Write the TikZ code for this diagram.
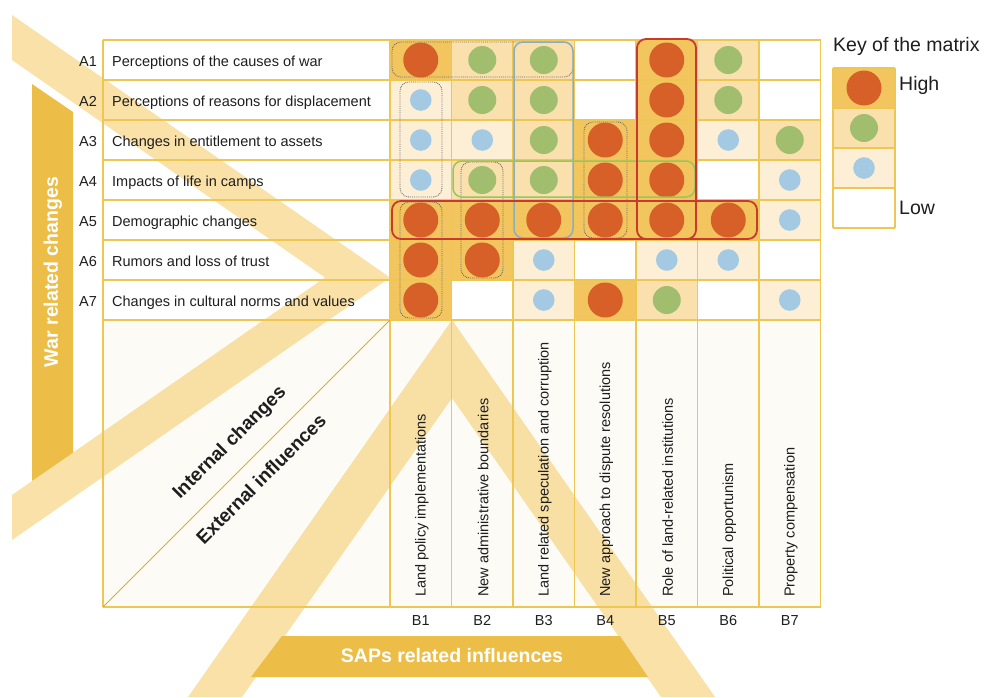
\documentclass[tikz,border=0pt]{standalone}
\usepackage{fontspec}
\setmainfont{Liberation Sans}
\definecolor{gridc}{RGB}{238,198,82}
\definecolor{cellH}{RGB}{242,197,95}
\definecolor{cellM}{RGB}{249,224,172}
\definecolor{cellL}{RGB}{252,239,214}
\definecolor{cream}{RGB}{253,251,246}
\definecolor{bandc}{RGB}{245,205,110}
\definecolor{barc}{RGB}{236,190,72}
\definecolor{dotH}{RGB}{214,96,40}
\definecolor{dotM}{RGB}{160,190,110}
\definecolor{dotL}{RGB}{163,202,226}
\definecolor{ringred}{RGB}{200,58,45}
\definecolor{ringgreen}{RGB}{150,198,95}
\definecolor{ringblue}{RGB}{140,172,195}
\definecolor{ringgray}{RGB}{110,110,110}
\definecolor{ink}{RGB}{30,30,30}
\definecolor{diagc}{RGB}{215,175,40}
\begin{document}
\begin{tikzpicture}[x=1pt,y=-1pt,
  every node/.style={inner sep=0pt, text=ink},
  gridline/.style={draw=gridc, line width=1.2pt},
  band/.style={fill=bandc, fill opacity=0.6},
  bigbar/.style={fill=barc},
  bartext/.style={text=white, font=\bfseries\fontsize{19.5}{22}\selectfont},
  rowtext/.style={anchor=base west, font=\fontsize{14.5}{16}\selectfont},
  coltext/.style={anchor=west, rotate=90, font=\fontsize{14.5}{16}\selectfont},
  idtext/.style={anchor=base, font=\fontsize{14.5}{16}\selectfont},
  keytext/.style={anchor=west, font=\fontsize{19.5}{22}\selectfont},
  diagtext/.style={rotate=45, font=\bfseries\fontsize{19}{21}\selectfont},
  hidot/.style={fill=dotH},
  middot/.style={fill=dotM},
  lodot/.style={fill=dotL},
  redring/.style={draw=ringred, line width=1.8pt, rounded corners=9pt},
  greenring/.style={draw=ringgreen, line width=1.5pt, rounded corners=9pt},
  bluering/.style={draw=ringblue, line width=1.5pt, rounded corners=9pt},
  grayring/.style={draw=ringgray, line width=0.9pt, densely dotted, rounded corners=9pt}]
\useasboundingbox (0,0) rectangle (984,697);

% lower panel backgrounds
\fill[cream] (103,320) rectangle (820.5,607);

% translucent chevron bands
\path[band] (12,15) -- (390,277.5) -- (12,540) -- (12,495) -- (325,277.5) -- (12,60) -- cycle;
\path[band] (188,697) -- (452,320) -- (715,697) -- (661,697) -- (452,398) -- (242,697) -- cycle;

% side bars
\path[bigbar] (32,84) -- (73,112) -- (73,452.7) -- (32,481) -- cycle;
\node[bartext, rotate=90] (warlabel) at (53,272) {War related changes};
\path[bigbar] (282,636) -- (620,636) -- (648,677) -- (251,677) -- cycle;
\node[bartext] (saplabel) at (452,656) {SAPs related influences};

% frame of label column and lower panel
\foreach \y in {40,80,...,320} \draw[gridline] (103,\y) -- (820.5,\y);
\draw[gridline] (103,607) -- (820.5,607);
\draw[gridline] (103,40) -- (103,607);
\foreach \c in {0,...,7} \draw[gridline] ({390+61.5*\c},40) -- ({390+61.5*\c},607);
\coordinate (diagA) at (103,607);
\coordinate (diagB) at (390,320);
\draw[diagc, line width=0.8pt] (diagA) -- (diagB);

% matrix cells: high / medium / low / empty
\foreach \c/\r in {1/1,5/1,5/2,4/3,5/3,4/4,5/4,1/5,2/5,3/5,4/5,5/5,6/5,1/6,2/6,1/7,4/7}
  \fill[cellH] ({390+61.5*(\c-1)},{40*\r}) rectangle ++(61.5,40);
\foreach \c/\r in {2/1,3/1,6/1,2/2,3/2,6/2,3/3,7/3,2/4,3/4,5/7}
  \fill[cellM] ({390+61.5*(\c-1)},{40*\r}) rectangle ++(61.5,40);
\foreach \c/\r in {1/2,1/3,2/3,6/3,1/4,7/4,7/5,3/6,5/6,6/6,3/7,7/7}
  \fill[cellL] ({390+61.5*(\c-1)},{40*\r}) rectangle ++(61.5,40);
\foreach \c/\r in {4/1,7/1,4/2,7/2,6/4,4/6,7/6,2/7,6/7}
  \fill[white] ({390+61.5*(\c-1)},{40*\r}) rectangle ++(61.5,40);
\foreach \y in {40,80,...,320} \draw[gridline] (390,\y) -- (820.5,\y);
\foreach \c in {0,...,7} \draw[gridline] ({390+61.5*\c},40) -- ({390+61.5*\c},320);

% dots
\foreach \c/\r in {1/1,5/1,5/2,4/3,5/3,4/4,5/4,1/5,2/5,3/5,4/5,5/5,6/5,1/6,2/6,1/7,4/7}
  \fill[hidot] ({390+61.5*(\c-0.5)},{40*\r+20}) circle[radius=17.5pt];
\foreach \c/\r in {2/1,3/1,6/1,2/2,3/2,6/2,3/3,7/3,2/4,3/4,5/7}
  \fill[middot] ({390+61.5*(\c-0.5)},{40*\r+20}) circle[radius=14pt];
\foreach \c/\r in {1/2,1/3,2/3,6/3,1/4,7/4,7/5,3/6,5/6,6/6,3/7,7/7}
  \fill[lodot] ({390+61.5*(\c-0.5)},{40*\r+20}) circle[radius=10.8pt];

% cluster outlines
\draw[grayring] (392,42) rectangle (573,77);
\draw[grayring] (400,82) rectangle (442,197);
\draw[grayring] (400,202) rectangle (442,318);
\draw[grayring] (461,162) rectangle (503,278);
\draw[grayring] (584,122) rectangle (627,238);
\draw[bluering] (514,42) rectangle (573,238);
\draw[greenring] (453,161) rectangle (695,197);
\draw[redring] (392,201) rectangle (757,239);
\draw[redring] (637,39) rectangle (696,239);

% row labels
\foreach \t [count=\r] in {Perceptions of the causes of war,
    Perceptions of reasons for displacement,
    Changes in entitlement to assets,
    Impacts of life in camps,
    Demographic changes,
    Rumors and loss of trust,
    Changes in cultural norms and values} {
  \node[idtext] (A\r) at (88,{40*\r+26}) {A\r};
  \node[rowtext] (rowlabel\r) at (112,{40*\r+26}) {\t};
}

% column labels
\foreach \t [count=\c] in {Land policy implementations,
    New administrative boundaries,
    Land related speculation and corruption,
    New approach to dispute resolutions,
    Role of land-related institutions,
    Political opportunism,
    Property compensation} {
  \node[coltext] (collabel\c) at ({390+61.5*(\c-0.5)+1},597) {\t};
  \node[idtext] (B\c) at ({390+61.5*(\c-0.5)},625) {B\c};
}

% diagonal captions
\node[diagtext] (internal) at (230,443) {Internal changes};
\node[diagtext] (external) at (261,479) {External influences};

% key
\node[keytext] (keytitle) at (833,46) {Key of the matrix};
\fill[cellH] (833,68) rectangle (895,108);
\fill[cellM] (833,108) rectangle (895,148);
\fill[cellL] (833,148) rectangle (895,188);
\fill[white] (833,188) rectangle (895,228);
\foreach \y in {68,108,148,188,228} \draw[gridline] (833,\y) -- (895,\y);
\draw[gridline] (833,68) -- (833,228);
\draw[gridline] (895,68) -- (895,228);
\fill[hidot] (864,88) circle[radius=17.5pt];
\fill[middot] (864,128) circle[radius=14pt];
\fill[lodot] (864,168) circle[radius=10.8pt];
\node[keytext] (keyhigh) at (899,85) {High};
\node[keytext] (keylow) at (899,208) {Low};
\end{tikzpicture}
\end{document}
